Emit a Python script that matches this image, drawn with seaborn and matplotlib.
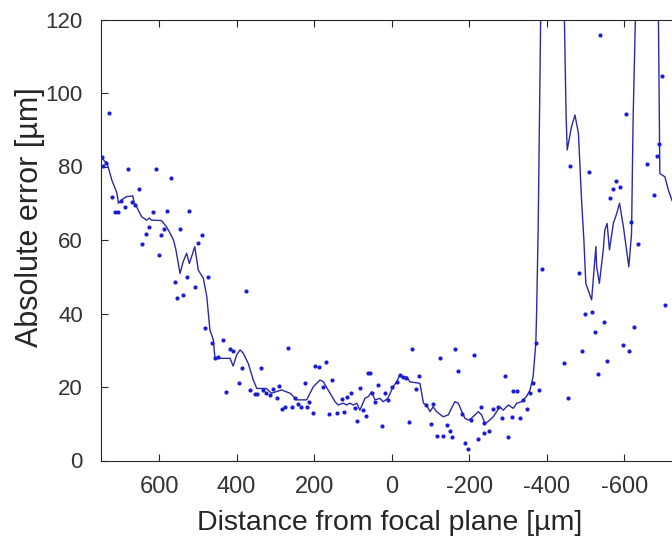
import numpy as np
import pandas as pd
import matplotlib
matplotlib.use('Agg')
import matplotlib.pyplot as plt
import seaborn as sns

# smoothed curve (distance in um, error in um)
line_x = [750, 737, 735, 722, 709, 705, 697, 684, 668, 664, 658, 645, 632, 625, 620, 594, 581, 572, 563, 557,
          546, 538, 529, 522, 508, 499, 486, 477, 469, 460, 456, 443, 417, 409, 400, 391, 383, 370, 357, 348,
          323, 310, 284, 262, 245, 219, 215, 202, 185, 176, 164, 146, 138, 125, 116, 108, 99, 90, 82, 69,
          60, 52, 43, 30, 22, 10, 4, -4, -13, -21, -30, -39, -47, -73, -82, -90, -99, -107, -116, -133,
          -146, -163, -172, -181, -189, -198, -206, -215, -224, -232, -241, -249, -262, -271, -279, -288, -301, -314, -323, -335,
          -348, -357, -365, -372, -374, -378, -381, -385, -395, -430, -445, -450, -453, -464, -473, -482, -490, -496, -501, -516,
          -527, -529, -536, -546, -550, -556, -562, -572, -581, -588, -598, -606, -612, -619, -623, -630, -640, -680, -688, -692,
          -705, -714, -723, -735]
line_y = [82.6, 81.0, 81.2, 76.3, 72.8, 70.0, 70.9, 71.8, 72.0, 70.0, 69.0, 66.3, 65.4, 66.0, 65.4, 65.3, 63.6, 61.9, 60.0, 57.5,
          50.9, 54.1, 56.4, 53.6, 58.2, 51.8, 49.6, 44.6, 35.5, 32.8, 27.8, 27.8, 27.8, 25.7, 28.7, 30.1, 29.2, 26.4, 21.9, 19.6,
          19.6, 18.3, 19.2, 18.3, 16.5, 16.5, 17.4, 20.1, 21.9, 21.4, 19.2, 16.0, 15.1, 15.6, 15.1, 15.6, 15.1, 15.6, 13.7, 16.9,
          17.4, 18.7, 16.5, 16.9, 16.0, 16.9, 18.3, 20.1, 21.4, 23.3, 22.4, 22.8, 21.4, 21.0, 15.6, 15.1, 13.3, 14.6, 13.3, 11.9,
          12.4, 16.0, 15.6, 13.3, 11.5, 11.0, 11.5, 12.4, 13.3, 12.4, 10.1, 10.6, 11.9, 13.3, 14.6, 13.7, 15.1, 14.2, 15.6, 16.0,
          17.4, 19.2, 22.8, 31.9, 40.0, 62.7, 90.0, 125.0, 190.0, 190.0, 125.0, 94.4, 84.5, 90.8, 94.0, 89.0, 70.9, 60.0, 48.2, 43.7,
          58.2, 52.7, 48.2, 57.3, 62.7, 64.5, 57.3, 64.5, 67.3, 70.0, 63.6, 57.3, 52.7, 61.8, 92.7, 125.0, 190.0, 190.0, 125.0, 78.1,
          77.2, 73.6, 70.9, 68.0]

# single measurements
pts_x = [748, 744, 738, 730, 722, 714, 705, 699, 688, 680, 671, 661, 651, 643, 634, 625, 617, 609, 600, 594,
         588, 579, 570, 559, 553, 546, 538, 529, 522, 507, 499, 490, 482, 473, 464, 456, 447, 434, 428, 417,
         410, 393, 385, 377, 366, 353, 348, 338, 331, 323, 314, 305, 297, 291, 284, 275, 267, 258, 250, 242,
         234, 224, 218, 213, 204, 198, 187, 178, 170, 162, 154, 142, 129, 123, 116, 106, 95, 90, 82, 75,
         67, 60, 56, 52, 43, 36, 26, 17, 10, 0, -13, -21, -30, -36, -45, -52, -62, -70, -89, -101,
         -107, -116, -125, -133, -142, -150, -157, -164, -171, -181, -189, -196, -205, -213, -222, -230, -239, -239, -251, -261,
         -275, -285, -292, -301, -310, -314, -323, -331, -340, -348, -357, -365, -372, -381, -389, -445, -454, -459, -483, -492,
         -499, -508, -518, -525, -533, -538, -548, -555, -563, -572, -579, -588, -598, -605, -612, -618, -626, -635, -660, -677,
         -685, -691, -697, -705]
pts_y = [82.5, 80.1, 80.9, 94.6, 71.8, 67.5, 67.7, 70.6, 68.9, 79.2, 70.4, 69.5, 73.8, 59.0, 61.5, 63.5, 67.5, 79.2, 55.9, 61.4,
         62.9, 67.9, 76.8, 48.7, 44.3, 62.9, 45.0, 50.0, 68.0, 47.3, 59.1, 61.4, 36.0, 50.0, 31.9, 27.8, 28.2, 32.8, 18.6, 30.3,
         29.9, 21.2, 25.1, 46.1, 19.2, 18.0, 18.0, 25.1, 19.2, 18.3, 17.8, 19.4, 16.9, 20.4, 13.9, 14.6, 30.5, 14.6, 16.9, 15.4,
         14.5, 21.2, 14.5, 16.0, 13.0, 25.7, 25.5, 20.1, 26.7, 12.6, 21.9, 13.0, 16.7, 13.3, 17.2, 18.4, 14.2, 10.8, 19.6, 13.7,
         12.1, 23.9, 23.7, 18.4, 16.0, 20.5, 9.4, 18.4, 16.5, 20.1, 21.4, 23.3, 22.8, 22.5, 10.6, 30.3, 19.5, 23.0, 15.1, 9.9,
         15.4, 6.7, 28.0, 6.7, 9.7, 8.1, 6.5, 30.3, 24.4, 12.7, 4.7, 3.0, 11.0, 28.6, 5.8, 14.6, 10.1, 7.4, 8.0, 13.9,
         14.6, 11.6, 23.0, 6.5, 11.8, 18.9, 18.9, 11.6, 16.5, 14.0, 18.3, 21.0, 31.9, 19.2, 52.2, 26.4, 17.1, 80.2, 51.1, 29.8,
         39.9, 78.4, 40.3, 35.1, 23.5, 115.8, 37.7, 27.1, 71.4, 73.9, 76.0, 74.5, 31.3, 94.2, 29.9, 65.0, 36.2, 59.0, 80.6, 72.3,
         82.8, 86.2, 104.5, 42.4]

curve = pd.DataFrame({'dist': line_x, 'err': line_y})
meas = pd.DataFrame({'dist': pts_x, 'err': pts_y})

sns.set_style('ticks')
plt.rcParams['font.family'] = ['Liberation Sans', 'DejaVu Sans']
plt.rcParams['axes.unicode_minus'] = False
plt.rcParams['text.color'] = '#262626'
plt.rcParams['axes.labelcolor'] = '#262626'

fig = plt.figure(figsize=(6.72, 5.43), dpi=100)
ax = fig.add_axes([101/672, 82.5/543, 571/672, 441/543])

sns.scatterplot(data=meas, x='dist', y='err', ax=ax, color='#1c1cd6', s=9, linewidth=0, zorder=3)
sns.lineplot(data=curve, x='dist', y='err', ax=ax, sort=False, estimator=None,
             color='#2a2aa8', lw=1.0, zorder=2)

ax.set_xlim(750, -723.4)
ax.set_ylim(0, 120)
ax.set_xticks([600, 400, 200, 0, -200, -400, -600])
ax.set_yticks([0, 20, 40, 60, 80, 100, 120])

ax.spines['right'].set_visible(False)
for s in ['left', 'bottom', 'top']:
    ax.spines[s].set_color('#262626')
    ax.spines[s].set_linewidth(0.8)
ax.tick_params(direction='in', length=5, width=0.8, color='#262626',
               labelcolor='#333333', top=True)
ax.tick_params(axis='x', labelsize=17, pad=11)
ax.tick_params(axis='y', labelsize=16, pad=13)

ax.set_xlabel('Distance from focal plane [µm]', fontsize=20.5)
ax.set_ylabel('Absolute error [µm]', fontsize=22)
ax.xaxis.set_label_coords(0.506, -0.112)
ax.yaxis.set_label_coords(-0.098, 0.551)

fig.savefig('out.png', dpi=100)
